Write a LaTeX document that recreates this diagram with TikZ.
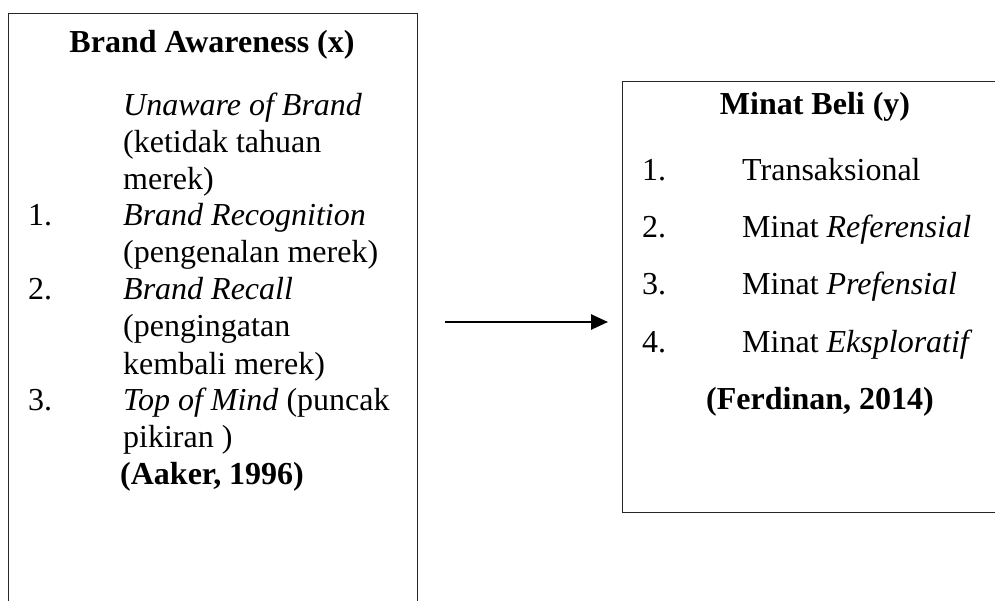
\documentclass[tikz,border=0pt]{standalone}
\usepackage{fontspec}
\setmainfont{Liberation Serif}
\usetikzlibrary{arrows.meta}
\begin{document}
\begin{tikzpicture}[x=1pt,y=-1pt,
  txt/.style={anchor=base west, inner sep=0pt, font=\fontsize{32}{36.8}\selectfont},
  ttl/.style={anchor=base, inner sep=0pt, font=\fontsize{32}{36.8}\selectfont\bfseries},
  boxline/.style={draw=black!85, line width=1.3pt},
  arr/.style={line width=2.6pt, -{Triangle[length=17pt,width=15pt]}}]
\useasboundingbox (0,0) rectangle (995,601);
\clip (0,0) rectangle (995,601);
\fill[white] (0,0) rectangle (995,601);
% boxes
\node[boxline, anchor=north west, minimum width=409pt, minimum height=640pt, inner sep=0pt] (lbox) at (8,13) {};
\node[boxline, anchor=north west, minimum width=393pt, minimum height=431pt, inner sep=0pt] (rbox) at (622,81) {};
% left box text
\node[ttl] (lt) at (212,53) {Brand Awareness (x)};
\node[txt] (l0) at (123,116) {\itshape Unaware of Brand};
\node[txt] (l1) at (123,153) {(ketidak tahuan};
\node[txt] (l2) at (123,190) {merek)};
\node[txt] (n1) at (28,226) {1.};
\node[txt] (l3) at (123,226) {\itshape Brand Recognition};
\node[txt] (l4) at (123,263) {(pengenalan merek)};
\node[txt] (n2) at (28,300) {2.};
\node[txt] (l5) at (123,300) {\itshape Brand Recall};
\node[txt] (l6) at (123,337) {(pengingatan};
\node[txt] (l7) at (123,374) {kembali merek)};
\node[txt] (n3) at (28,410) {3.};
\node[txt] (l8) at (123,410) {\textit{Top of Mind} (puncak};
\node[txt] (l9) at (123,447) {pikiran )};
\node[txt, font=\fontsize{32}{36.8}\selectfont\bfseries] (la) at (120,484) {(Aaker, 1996)};
% right box text
\node[ttl] (rt) at (815,115) {Minat Beli (y)};
\node[txt] (m1) at (642,181) {1.};
\node[txt] (r1) at (742,181) {Transaksional};
\node[txt] (m2) at (642,238) {2.};
\node[txt] (r2) at (742,238) {Minat \textit{Referensial}};
\node[txt] (m3) at (642,295) {3.};
\node[txt] (r3) at (742,295) {Minat \textit{Prefensial}};
\node[txt] (m4) at (642,352) {4.};
\node[txt] (r4) at (742,352) {Minat \textit{Eksploratif}};
\node[ttl] (rf) at (820,409) {(Ferdinan, 2014)};
% arrow
\coordinate (a1) at (445,322);
\coordinate (a2) at (608,322);
\draw[arr] (a1) -- (a2);
\end{tikzpicture}
\end{document}
